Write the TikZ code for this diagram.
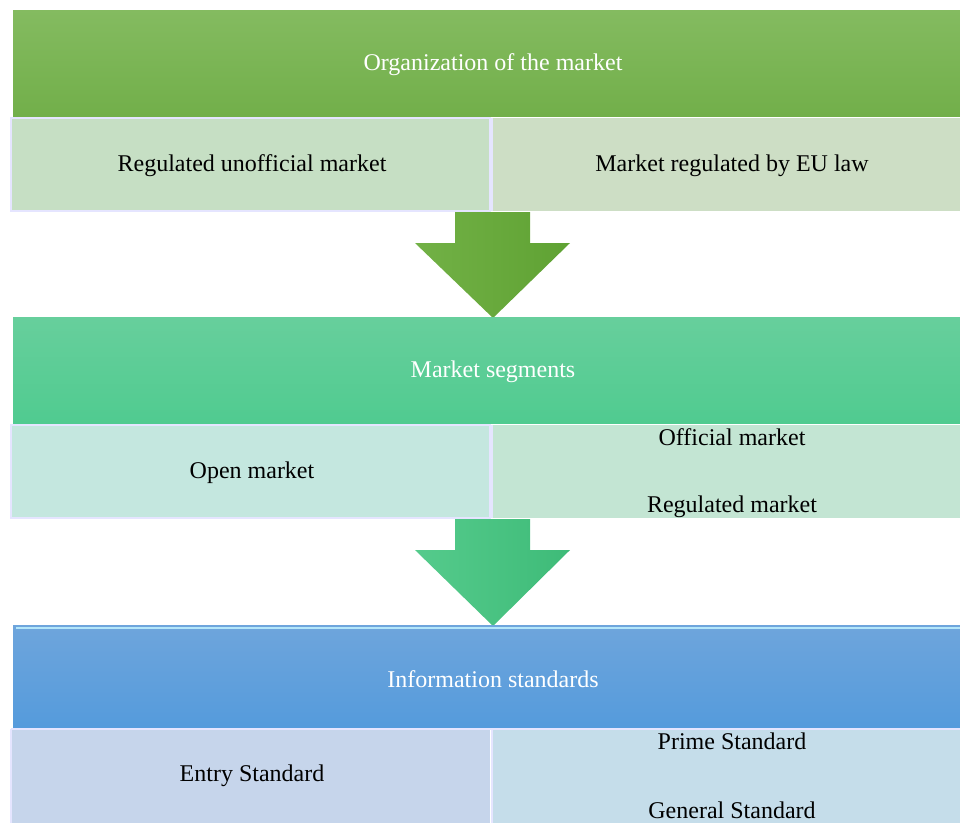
\documentclass[tikz,border=0pt]{standalone}
\usepackage{fontspec}
\setmainfont{Liberation Serif}
\begin{document}
\begin{tikzpicture}[x=1pt,y=-1pt,
  hdr/.style={text=white,font=\fontsize{24}{28}\selectfont},
  sub/.style={text=black,font=\fontsize{24}{28}\selectfont},
  edge/.style={draw=white!90!blue,line width=1.2pt}]
\definecolor{gA}{HTML}{84BB60}\definecolor{gB}{HTML}{72AF4A}
\definecolor{gL}{HTML}{C6DFC4}\definecolor{gR}{HTML}{CDDEC5}
\definecolor{tA}{HTML}{67CF9C}\definecolor{tB}{HTML}{50CB90}
\definecolor{tL}{HTML}{C4E7DF}\definecolor{tR}{HTML}{C3E5D3}
\definecolor{bA}{HTML}{6EA5DC}\definecolor{bB}{HTML}{559BDC}
\definecolor{bL}{HTML}{C6D5EB}\definecolor{bR}{HTML}{C5DDEA}
\definecolor{arA}{HTML}{72B146}\definecolor{arB}{HTML}{5FA233}
\definecolor{arC}{HTML}{55CB8C}\definecolor{arD}{HTML}{3EBB78}
\useasboundingbox (0,0) rectangle (960,823);
% block 1
\shade[top color=gA,bottom color=gB] (13,10) rectangle (960,116);
\node[hdr] (h1) at (493,65) {Organization of the market};
\fill[gL] (11,118) rectangle (490,211);
\fill[gR] (492,118) rectangle (960,211);
\draw[edge] (11,118) rectangle (490,211);
\draw[edge] (492,118) -- (492,211);
\node[sub] (l1) at (252,166) {Regulated unofficial market};
\node[sub] (r1) at (732,166) {Market regulated by EU law};
% arrow 1
\shade[left color=arA,right color=arB] (455,212) -- (530,212) -- (530,243) -- (570,243) -- (493,318) -- (415,243) -- (455,243) -- cycle;
% block 2
\shade[top color=tA,bottom color=tB] (13,317) rectangle (960,423);
\node[hdr] (h2) at (493,372) {Market segments};
\fill[tL] (11,425) rectangle (490,518);
\fill[tR] (492,425) rectangle (960,518);
\draw[edge] (11,425) rectangle (490,518);
\draw[edge] (492,425) -- (492,518);
\node[sub] (l2) at (252,473) {Open market};
\node[sub] (r2a) at (732,437) {Official market};
\node[sub] (r2b) at (732,507) {Regulated market};
% arrow 2
\shade[left color=arC,right color=arD] (455,519) -- (530,519) -- (530,550) -- (570,550) -- (493,626) -- (415,550) -- (455,550) -- cycle;
% block 3
\shade[top color=bA,bottom color=bB] (13,625) rectangle (960,727);
\draw[white!70!cyan,line width=1.5pt] (16,628) -- (960,628);
\node[hdr] (h3) at (493,679) {Information standards};
\fill[bL] (11,729) rectangle (490,823);
\fill[bR] (492,729) rectangle (960,823);
\draw[edge] (11,729) -- (11,823);
\draw[edge] (11,729) -- (960,729);
\draw[edge] (492,729) -- (492,823);
\node[sub] (l3) at (252,776) {Entry Standard};
\node[sub] (r3a) at (732,741) {Prime Standard};
\node[sub] (r3b) at (732,810) {General Standard};
\end{tikzpicture}
\end{document}
